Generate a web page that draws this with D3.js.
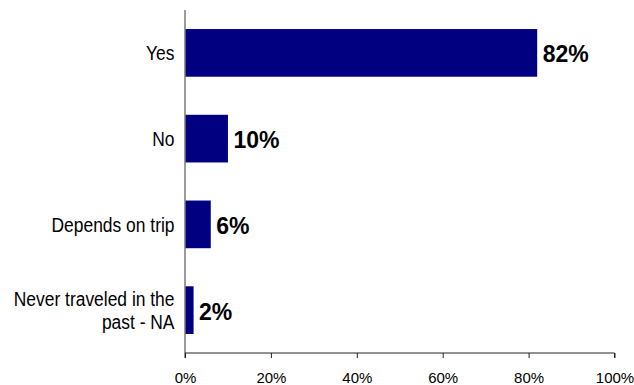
<!DOCTYPE html>
<html>
<head>
<meta charset="utf-8">
<script src="https://cdn.jsdelivr.net/npm/d3@7"></script>
<style>
  html, body { margin: 0; padding: 0; background: #fff; }
  svg { display: block; }
</style>
</head>
<body>
<svg id="chart" width="634" height="385"></svg>
<script>
// Survey responses, share of respondents
const categories = [["Yes"], ["No"], ["Depends on trip"], ["Never traveled in the", "past - NA"]];
const values = [0.82, 0.10, 0.06, 0.02];
const valueLabels = ["82%", "10%", "6%", "2%"];
const tickValues = [0, 0.2, 0.4, 0.6, 0.8, 1.0];
const tickLabels = ["0%", "20%", "40%", "60%", "80%", "100%"];

const svg = d3.select("#chart");
const plotLeft = 185, plotRight = 614.5, plotTop = 10, plotBottom = 353;

const x = d3.scaleLinear().domain([0, 1]).range([plotLeft, plotRight]);
const y = d3.scaleBand()
  .domain(d3.range(categories.length))
  .range([plotTop, plotBottom])
  .paddingInner(0.444)
  .paddingOuter(0.222);

// bars
svg.append("g").selectAll("rect")
  .data(values)
  .join("rect")
  .attr("x", x(0))
  .attr("y", (d, i) => y(i))
  .attr("width", d => x(d) - x(0))
  .attr("height", y.bandwidth())
  .attr("fill", "#000080");

// value labels
svg.append("g").selectAll("text")
  .data(values)
  .join("text")
  .attr("x", d => x(d) + 5.5)
  .attr("y", (d, i) => y(i) + y.bandwidth() / 2 + 9.5)
  .attr("font-family", "Liberation Sans, Arial, sans-serif")
  .attr("font-weight", "bold")
  .attr("font-size", 23)
  .attr("fill", "#000")
  .text((d, i) => valueLabels[i]);

// category labels (narrow face, right-aligned against the axis)
const catG = svg.append("g");
categories.forEach((lines, i) => {
  const cy = y(i) + y.bandwidth() / 2;
  const lh = 22.5;
  const first = cy - (lines.length - 1) * lh / 2;
  lines.forEach((line, j) => {
    catG.append("text")
      .attr("transform", `translate(${plotLeft - 10.5},${first + j * lh + 7.5}) scale(0.83,1)`)
      .attr("text-anchor", "end")
      .attr("font-family", "Liberation Sans, Arial, sans-serif")
      .attr("font-size", 21)
      .attr("fill", "#000")
      .text(line);
  });
});

// y axis line (grey)
svg.append("line")
  .attr("x1", plotLeft).attr("x2", plotLeft)
  .attr("y1", plotTop).attr("y2", plotBottom)
  .attr("stroke", "#7a7a7a")
  .attr("stroke-width", 1.5);

// x axis
const xAxis = d3.axisBottom(x)
  .tickValues(tickValues)
  .tickFormat((d, i) => tickLabels[i])
  .tickSizeInner(5)
  .tickSizeOuter(5)
  .tickPadding(14);

const gx = svg.append("g")
  .attr("transform", `translate(0,${plotBottom})`)
  .call(xAxis);
gx.select(".domain").attr("stroke", "#222").attr("d", `M${plotLeft},5V0H${plotRight}V5`);
gx.selectAll(".tick line").attr("stroke", "#222");
gx.selectAll(".tick text")
  .attr("font-family", "Liberation Sans, Arial, sans-serif")
  .attr("font-size", 15)
  .attr("fill", "#000");
</script>
</body>
</html>
